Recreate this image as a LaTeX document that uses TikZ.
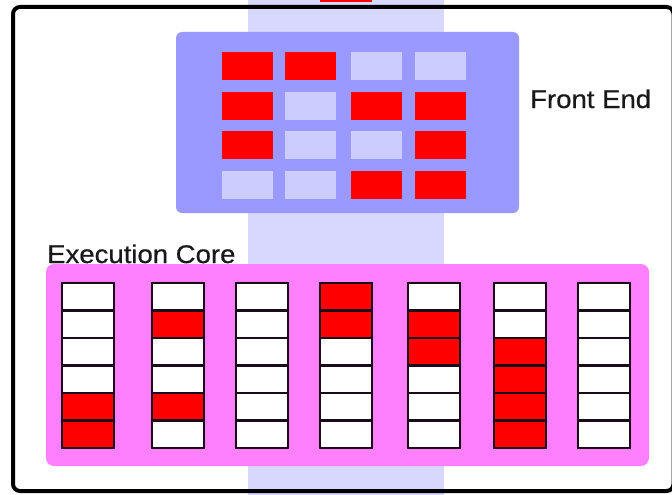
\documentclass[tikz,border=0pt]{standalone}
\usepackage{fontspec}
\newfontfamily\lblfont[FakeStretch=1.08,FakeBold=0.6]{Liberation Sans}
\definecolor{band}{HTML}{D8D8FF}
\definecolor{fe}{HTML}{9999FF}
\definecolor{lite}{HTML}{CCCCFF}
\definecolor{core}{HTML}{FF80FF}
\definecolor{hot}{HTML}{FF0000}
\definecolor{edge}{HTML}{1A0A1A}
\begin{document}
\begin{tikzpicture}[x=1pt,y=-1pt,
  lbl/.style={font=\lblfont\fontsize{25.5}{30}\selectfont, inner sep=0pt, anchor=base west, text=black!90},
  cell/.style={draw=edge, line width=2.8pt, fill=white},
  fecell/.style={fill=lite}]
\useasboundingbox (0,0) rectangle (672,495);
\fill[white] (0,0) rectangle (672,495);
% vertical band
\fill[band] (248,-5) rectangle (444,500);
\fill[hot] (320,-5) rectangle (372,2.5);
% frame
\draw[line width=4pt, rounded corners=7pt] (13,7) rectangle (673.5,491);
% front end
\fill[fe, rounded corners=6pt] (176,32) rectangle (519,213);
\foreach \x/\y/\c in {222/52/hot, 285/52/hot, 351/52/lite, 415/52/lite,
                      222/92/hot, 285/92/lite, 351/92/hot, 415/92/hot,
                      222/131/hot, 285/131/lite, 351/131/lite, 415/131/hot,
                      222/171/lite, 285/171/lite, 351/171/hot, 415/171/hot}
  \fill[\c] (\x,\y) rectangle ++(51,28);
\node[lbl] (fel) at (530,108) {Front End};
% execution core
\node[lbl] (ecl) at (47,263) {Execution Core};
\fill[core, rounded corners=8pt] (46,264) rectangle (649,466);
\foreach \x in {62,152,236,320,408,494,578}
  \foreach \r in {0,...,5}
    \draw[cell] (\x,{283+27.5*\r}) rectangle ++(52,27.5);
\foreach \x/\r in {62/4,62/5,152/1,152/4,320/0,320/1,408/1,408/2,494/2,494/3,494/4,494/5}
  \draw[cell, fill=hot] (\x,{283+27.5*\r}) rectangle ++(52,27.5);
\end{tikzpicture}
\end{document}
